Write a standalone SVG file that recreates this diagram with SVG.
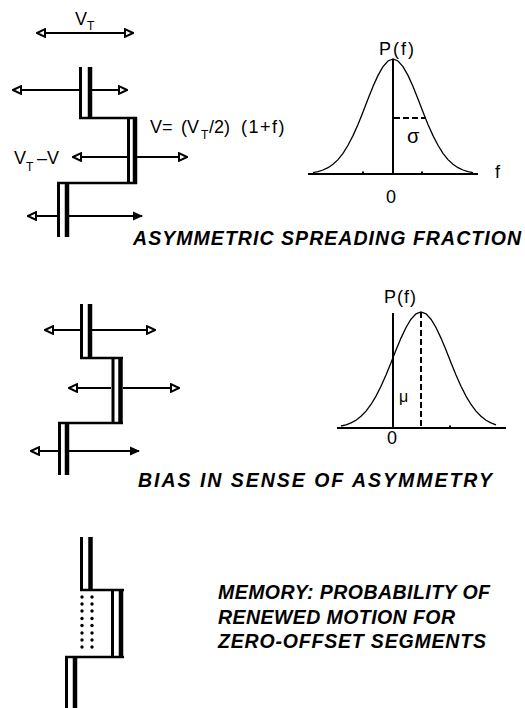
<svg xmlns="http://www.w3.org/2000/svg" width="525" height="708" viewBox="0 0 525 708">
<style>
.bg{fill:#fff}
.lb{stroke:#000;stroke-width:3;fill:none}
.rb{stroke:#000;stroke-width:4.5;fill:none}
.hz{stroke:#000;stroke-width:2.5;fill:none}
.ar{stroke:#000;stroke-width:2;fill:none;marker-end:url(#ho)}
.arf{stroke:#000;stroke-width:2;fill:none;marker-end:url(#fi)}
.ax{stroke:#000;stroke-width:2;fill:none}
.cv{stroke:#000;stroke-width:1.3;fill:none}
.dash{stroke:#000;stroke-width:2;fill:none;stroke-dasharray:6 3}
text{font-family:"Liberation Sans",Arial,Helvetica,sans-serif;fill:#000}
.lbl{font-size:18px}
.sub{font-size:12px}
.cap{font-size:19.5px;font-style:italic;font-weight:bold}
.dot{fill:#000}
</style>
<defs>
<marker id="ho" viewBox="0 0 10 10" refX="9" refY="5" markerWidth="10" markerHeight="10" markerUnits="userSpaceOnUse" orient="auto-start-reverse">
<path d="M1,1.2 L9,5 L1,8.8 Z" fill="#fff" stroke="#000" stroke-width="2" stroke-linejoin="miter"/>
</marker>
<marker id="fi" viewBox="0 0 10 10" refX="9" refY="5" markerWidth="10" markerHeight="10" markerUnits="userSpaceOnUse" orient="auto-start-reverse">
<path d="M0,0.5 L10,5 L0,9.5 Z" fill="#000"/>
</marker>
</defs>
<rect class="bg" x="0" y="0" width="525" height="708"/>

<g id="panel1-ridge">
<path class="lb" d="M80.5,67 V118"/>
<path class="rb" d="M90,67 V118"/>
<path class="hz" d="M79,118 H137"/>
<path class="lb" d="M128.5,118 V183"/>
<path class="rb" d="M135,117 V184"/>
<path class="hz" d="M57,183 H137"/>
<path class="lb" d="M58.5,183 V237"/>
<path class="rb" d="M67,183 V237"/>
</g>

<g id="panel1-vt">
<text class="lbl" x="75" y="25">V</text><text class="sub" x="87" y="30">T</text>
</g>

<g id="panel1-labels">
<text class="lbl" x="150" y="133">V=</text>
<text class="lbl" x="181" y="133">(V</text>
<text class="sub" x="201" y="139">T</text>
<text class="lbl" x="209" y="133">/2)</text>
<text class="lbl" x="241" y="133" style="letter-spacing:1.5px">(1+f)</text>
<text class="lbl" x="14" y="164">V</text>
<text class="sub" x="26" y="171">T</text>
<text class="lbl" x="37" y="164">–V</text>
</g>

<g id="panel1-gauss">
<path class="ax" d="M308,174 H478"/>
<path class="ax" d="M363,171.5 V174 M422,171.5 V174"/>
<path class="cv" d="M313,172.6 L318,171.6 L323,170 L328,167.7 L333,164.3 L338,159.6 L343,153.3 L348,145.3 L353,135.6 L358,124.4 L363,112 L368,99.1 L373,86.6 L378,75.4 L383,66.6 L388,61 L393,59 L398,61 L403,66.6 L408,75.4 L413,86.6 L418,99.1 L423,112 L428,124.4 L433,135.6 L438,145.3 L443,153.3 L448,159.6 L453,164.3 L458,167.7 L463,170 L468,171.6 L473,172.6"/>
<path class="ax" d="M393,59 V174"/>
<path class="dash" d="M394,118 H426"/>
<text class="lbl" x="379" y="55" textLength="35" lengthAdjust="spacing">P(f)</text>
<text class="lbl" x="407" y="143" style="font-size:20px">σ</text>
<text class="lbl" x="495" y="178">f</text>
<text class="lbl" x="386" y="203">0</text>
</g>

<g id="panel2-ridge">
<path class="lb" d="M81.5,304 V358"/>
<path class="rb" d="M90,304 V358"/>
<path class="hz" d="M80,358 H123"/>
<path class="lb" d="M113,358 V423"/>
<path class="rb" d="M120.5,357 V424"/>
<path class="hz" d="M58,423 H123"/>
<path class="lb" d="M59.5,423 V475"/>
<path class="rb" d="M67,423 V475"/>
</g>

<g id="panel2-gauss">
<path class="ax" d="M337,428 H506"/>
<path class="ax" d="M450,425.5 V428"/>
<path class="cv" d="M341,426 L346,424.8 L351,422.9 L356,420.2 L361,416.3 L366,411.1 L371,404.5 L376,396.1 L381,386.2 L386,374.9 L391,362.7 L396,350.1 L401,338.1 L406,327.5 L411,319.2 L416,313.8 L421,312 L426,313.8 L431,319.2 L436,327.5 L441,338.1 L446,350.1 L451,362.7 L456,374.9 L461,386.2 L466,396.1 L471,404.5 L476,411.1 L481,416.3 L486,420.2 L491,422.9 L496,424.8"/>
<path class="ax" d="M393,313 V428"/>
<path class="dash" d="M421,312 V428"/>
<text class="lbl" x="384" y="303" textLength="32" lengthAdjust="spacing">P(f)</text>
<text class="lbl" x="399" y="402" style="font-size:16px">μ</text>
<text class="lbl" x="387" y="444">0</text>
</g>

<g id="panel3-ridge">
<path class="lb" d="M81.5,537 V590"/>
<path class="rb" d="M90.5,537 V590"/>
<path class="hz" d="M80,590 H124"/>
<path class="lb" d="M112.5,590 V657"/>
<path class="rb" d="M121,589 V658"/>
<path class="hz" d="M65,657 H124"/>
<path class="lb" d="M66.5,657 V708"/>
<path class="rb" d="M75,657 V708"/>
</g>

<g id="panel3-dots">
<circle class="dot" cx="82" cy="597" r="1.7"/><circle class="dot" cx="82" cy="604" r="1.7"/><circle class="dot" cx="82" cy="611" r="1.7"/><circle class="dot" cx="82" cy="618.5" r="1.7"/><circle class="dot" cx="82" cy="625.5" r="1.7"/><circle class="dot" cx="82" cy="633" r="1.7"/><circle class="dot" cx="82" cy="640" r="1.7"/><circle class="dot" cx="82" cy="647" r="1.7"/>
<circle class="dot" cx="92" cy="597" r="1.7"/><circle class="dot" cx="92" cy="604" r="1.7"/><circle class="dot" cx="92" cy="611" r="1.7"/><circle class="dot" cx="92" cy="618.5" r="1.7"/><circle class="dot" cx="92" cy="625.5" r="1.7"/><circle class="dot" cx="92" cy="633" r="1.7"/><circle class="dot" cx="92" cy="640" r="1.7"/><circle class="dot" cx="92" cy="647" r="1.7"/>
</g>

<g id="captions">
<text class="cap" x="133" y="245" textLength="388" lengthAdjust="spacing">ASYMMETRIC SPREADING FRACTION</text>
<text class="cap" x="138" y="487" textLength="354" lengthAdjust="spacing">BIAS IN SENSE OF ASYMMETRY</text>
<text class="cap" x="218" y="599" textLength="272" lengthAdjust="spacing">MEMORY: PROBABILITY OF</text>
<text class="cap" x="218" y="624" textLength="237" lengthAdjust="spacing">RENEWED MOTION FOR</text>
<text class="cap" x="218" y="648" textLength="268" lengthAdjust="spacing">ZERO-OFFSET SEGMENTS</text>
</g>

<g id="connectors">
<path class="ar" style="marker-start:url(#ho)" d="M37,33 H133"/>
<path class="ar" d="M79,90 H13"/>
<path class="ar" d="M92,90 H127"/>
<path class="ar" d="M127,157 H73"/>
<path class="ar" d="M137,157 H187"/>
<path class="ar" d="M57,216 H28"/>
<path class="arf" d="M69,216 H142"/>
<path class="ar" d="M80,330 H45"/>
<path class="ar" d="M92,330 H155"/>
<path class="ar" d="M111,388 H69"/>
<path class="ar" d="M123,388 H179"/>
<path class="ar" d="M58,451 H31"/>
<path class="arf" d="M69,451 H139"/>
</g>
</svg>
